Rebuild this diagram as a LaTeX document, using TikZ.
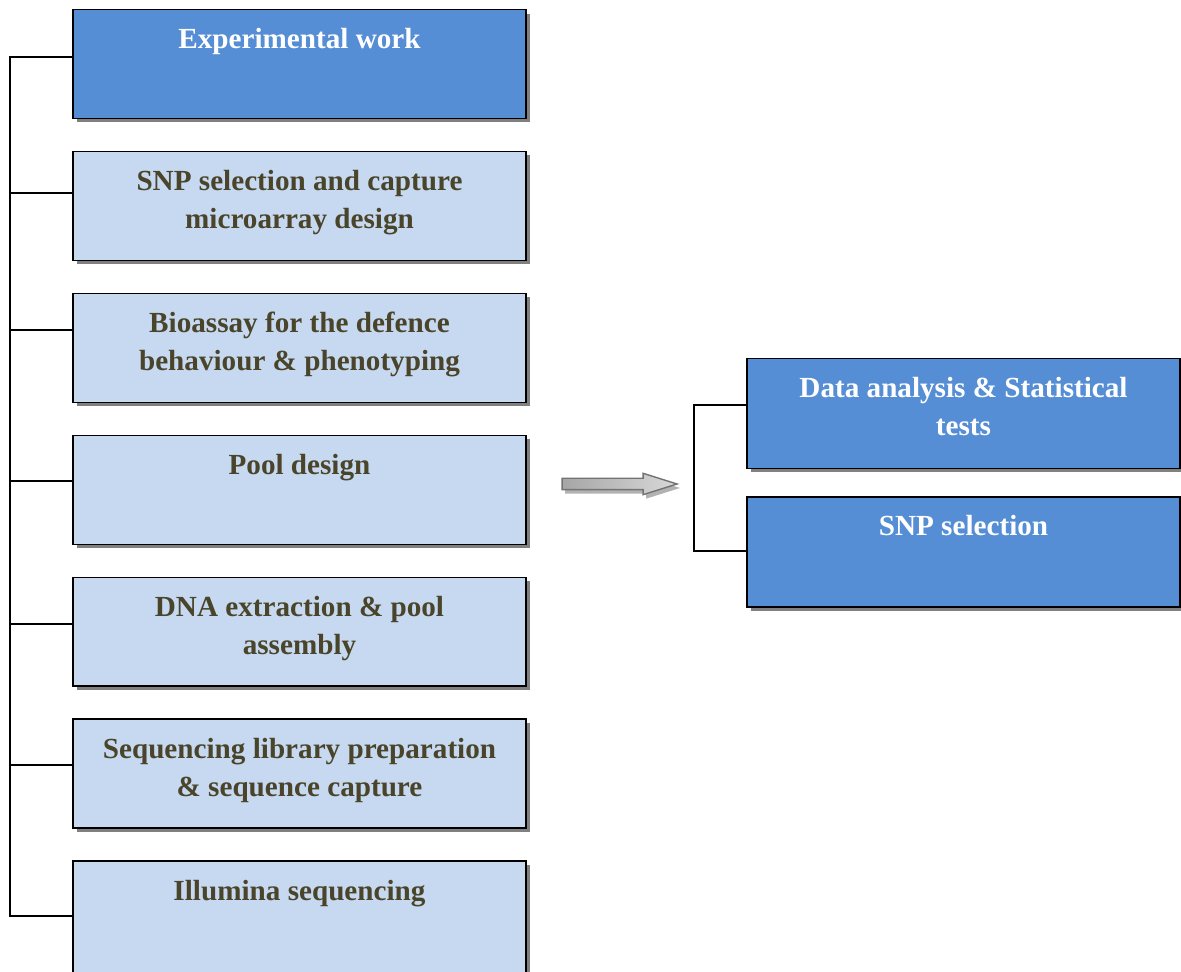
\documentclass[tikz,border=0pt]{standalone}
\usepackage{fontspec}
\setmainfont{Liberation Serif}
\usetikzlibrary{positioning, shapes.arrows, shadows}
\definecolor{darkblue}{HTML}{558ED5}
\definecolor{paleblue}{HTML}{C6D9F1}
\definecolor{olivetext}{HTML}{4A452A}
\tikzstyle{stage} = [rectangle, minimum width=9.06cm, minimum height=2.18cm, draw=black, line width=1pt, fill=paleblue, drop shadow={shadow xshift=0.08cm, shadow yshift=-0.08cm, fill=black!50, opacity=1}]
\tikzstyle{headstage} = [stage, fill=darkblue]
\tikzstyle{result} = [headstage, minimum width=8.66cm, minimum height=2.2cm]
\tikzstyle{stagetext} = [inner sep=0pt, align=center, text=olivetext, font=\bfseries\fontsize{16.6}{21.6}\selectfont]
\tikzstyle{headtext} = [stagetext, text=white]
\tikzstyle{link} = [line width=1pt]
\tikzstyle{bigarrow} = [single arrow, draw=black!55, line width=0.8pt, left color=gray!70, right color=gray!30, minimum height=2.3cm, inner xsep=0pt, inner ysep=0.1cm, single arrow head extend=0.1cm, single arrow tip angle=35, drop shadow={shadow xshift=0.06cm, shadow yshift=-0.08cm, fill=black!30, opacity=1}]

\begin{document}
\begin{tikzpicture}[x=0.02cm, y=-0.02cm, node distance=2.84cm]
\useasboundingbox (0,0) rectangle (1181,972);

% experimental work
\node (a1) [headstage] at (299.5,64) {};
\node (a2) [stage, below of=a1] {};
\node (a3) [stage, below of=a2] {};
\node (a4) [stage, below of=a3] {};
\node (a5) [stage, below of=a4] {};
\node (a6) [stage, below of=a5] {};
\node (a7) [stage, below of=a6, yshift=-0.04cm, minimum height=2.26cm] {};

\node (t1) [headtext, below=0.38cm of a1.north] {Experimental work};
\node (t2) [stagetext, below=0.38cm of a2.north] {SNP selection and capture\\microarray design};
\node (t3) [stagetext, below=0.38cm of a3.north] {Bioassay for the defence\\behaviour \& phenotyping};
\node (t4) [stagetext, below=0.38cm of a4.north] {Pool design};
\node (t5) [stagetext, below=0.38cm of a5.north] {DNA extraction \& pool\\assembly};
\node (t6) [stagetext, below=0.38cm of a6.north] {Sequencing library preparation\\\& sequence capture};
\node (t7) [stagetext, below=0.38cm of a7.north] {Illumina sequencing};

% analysis
\node (r1) [result] at (963.5,413.5) {};
\node (r2) [result, below of=r1, node distance=2.77cm] {};
\node (s1) [headtext, below=0.38cm of r1.north] {Data analysis \& Statistical\\tests};
\node (s2) [headtext, below=0.38cm of r2.north] {SNP selection};

\node (go) [bigarrow] at (610.5,484) {};

\draw [link] ([yshift=0.14cm]a1.west) -- ++(-1.24cm,0) |- ([yshift=0.04cm]a7.west);
\foreach \n/\dy in {a2/0.26, a3/0.36, a4/0.18, a5/0.16, a6/0.18}
  \draw [link] ([yshift=\dy cm]\n.west) -- +(-1.24cm,0);
\draw [link] ([yshift=0.17cm]r1.west) -- ++(-1.04cm,0) |- ([yshift=0.02cm]r2.west);
\end{tikzpicture}
\end{document}
